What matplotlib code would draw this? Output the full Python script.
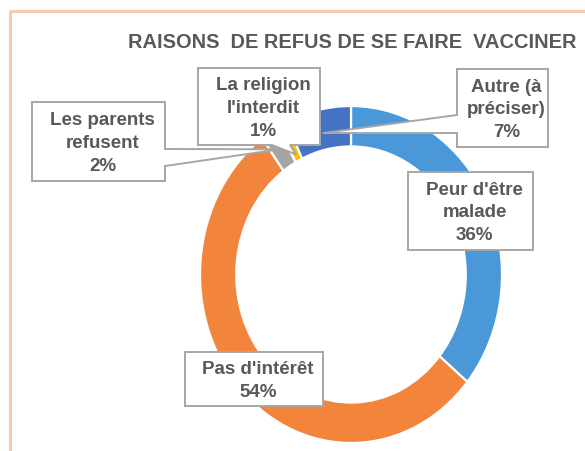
import numpy as np
import matplotlib
matplotlib.use("Agg")
import matplotlib.pyplot as plt
from matplotlib.patches import Polygon

plt.rcParams["font.family"] = ["Liberation Sans", "DejaVu Sans"]

# données
TITLE = "RAISONS  DE REFUS DE SE FAIRE  VACCINER"
CATEGORIES = ["Peur d'être\nmalade", "Pas d'intérêt", "Les parents\nrefusent",
              "La religion\nl'interdit", "Autre (à\npréciser)"]
VALUES = [36, 54, 2, 1, 7]
COLORS = ["#4A98D8", "#F2843C", "#A5A5A5", "#FFC000", "#4472C4"]

TEXT_COLOR = "#595959"
BOX_EDGE = "#A6A6A6"

W, H = 585, 452
fig = plt.figure(figsize=(W / 100, H / 100), dpi=100)
fig.patch.set_facecolor("white")

# anneau (axes placés sur l'ellipse de l'original)
pie_ax = fig.add_axes([200 / W, 1 - 444 / H, 302 / W, 337 / H])
wedges, _ = pie_ax.pie(
    VALUES,
    colors=COLORS,
    startangle=90,
    counterclock=False,
    radius=1.0,
    wedgeprops=dict(width=0.24, edgecolor="white", linewidth=1.6),
)
pie_ax.set_aspect("auto")
pie_ax.set_xlim(-1, 1)
pie_ax.set_ylim(-1, 1)
pie_ax.axis("off")

# calque en pixels pour le titre, les bulles et le cadre
ov = fig.add_axes([0, 0, 1, 1], zorder=5)
ov.set_xlim(0, W)
ov.set_ylim(H, 0)
ov.axis("off")
ov.patch.set_alpha(0)

# cadre pêche (haut + gauche)
ov.plot([10, 10, W], [H, 12, 12], color="#F8CBAD", lw=2.2, solid_capstyle="butt")

ov.text(352, 43, TITLE, ha="center", va="center", fontsize=14.4,
        fontweight="bold", color=TEXT_COLOR)


def wedge_tip(idx, r):
    """Point au milieu du segment idx, à un rayon r, en pixels du calque."""
    w = wedges[idx]
    ang = np.deg2rad((w.theta1 + w.theta2) / 2)
    disp = pie_ax.transData.transform((r * np.cos(ang), r * np.sin(ang)))
    return ov.transData.inverted().transform(disp)


def callout(box, side=None, base=None, tip=None):
    x0, y0, x1, y1 = box
    if side == "left":
        pts = [(x0, y0), (x1, y0), (x1, y1), (x0, y1), (x0, base[1]), tip, (x0, base[0])]
    elif side == "right":
        pts = [(x0, y0), (x1, y0), (x1, base[0]), tip, (x1, base[1]), (x1, y1), (x0, y1)]
    elif side == "bottom":
        pts = [(x0, y0), (x1, y0), (x1, y1), (base[1], y1), tip, (base[0], y1), (x0, y1)]
    else:
        pts = [(x0, y0), (x1, y0), (x1, y1), (x0, y1)]
    ov.add_patch(Polygon(pts, closed=True, facecolor="white", edgecolor=BOX_EDGE,
                         lw=1.4, joinstyle="miter"))


def label(idx, box, dx=4):
    x0, y0, x1, y1 = box
    ov.text((x0 + x1) / 2 + dx, (y0 + y1) / 2 + 1, f"{CATEGORIES[idx]}\n{VALUES[idx]}%",
            ha="center", va="center", fontsize=13.5, fontweight="bold",
            color=TEXT_COLOR, linespacing=1.45)


# Peur d'être malade
box = (408, 173, 533, 251)
callout(box)
label(0, box)

# Pas d'intérêt
box = (185, 353, 323, 407)
callout(box)
label(1, box)

# Les parents refusent
box = (32, 103, 165, 182)
callout(box, "right", (150, 167), wedge_tip(2, 0.88))
label(2, box)

# La religion l'interdit
box = (198, 69, 320, 146)
callout(box, "bottom", (272, 290), wedge_tip(3, 0.8))
label(3, box)

# Autre (à préciser)
box = (457, 70, 548, 148)
callout(box, "left", (116, 134), wedge_tip(4, 0.86))
label(4, box)

fig.savefig("out.png", dpi=100)
